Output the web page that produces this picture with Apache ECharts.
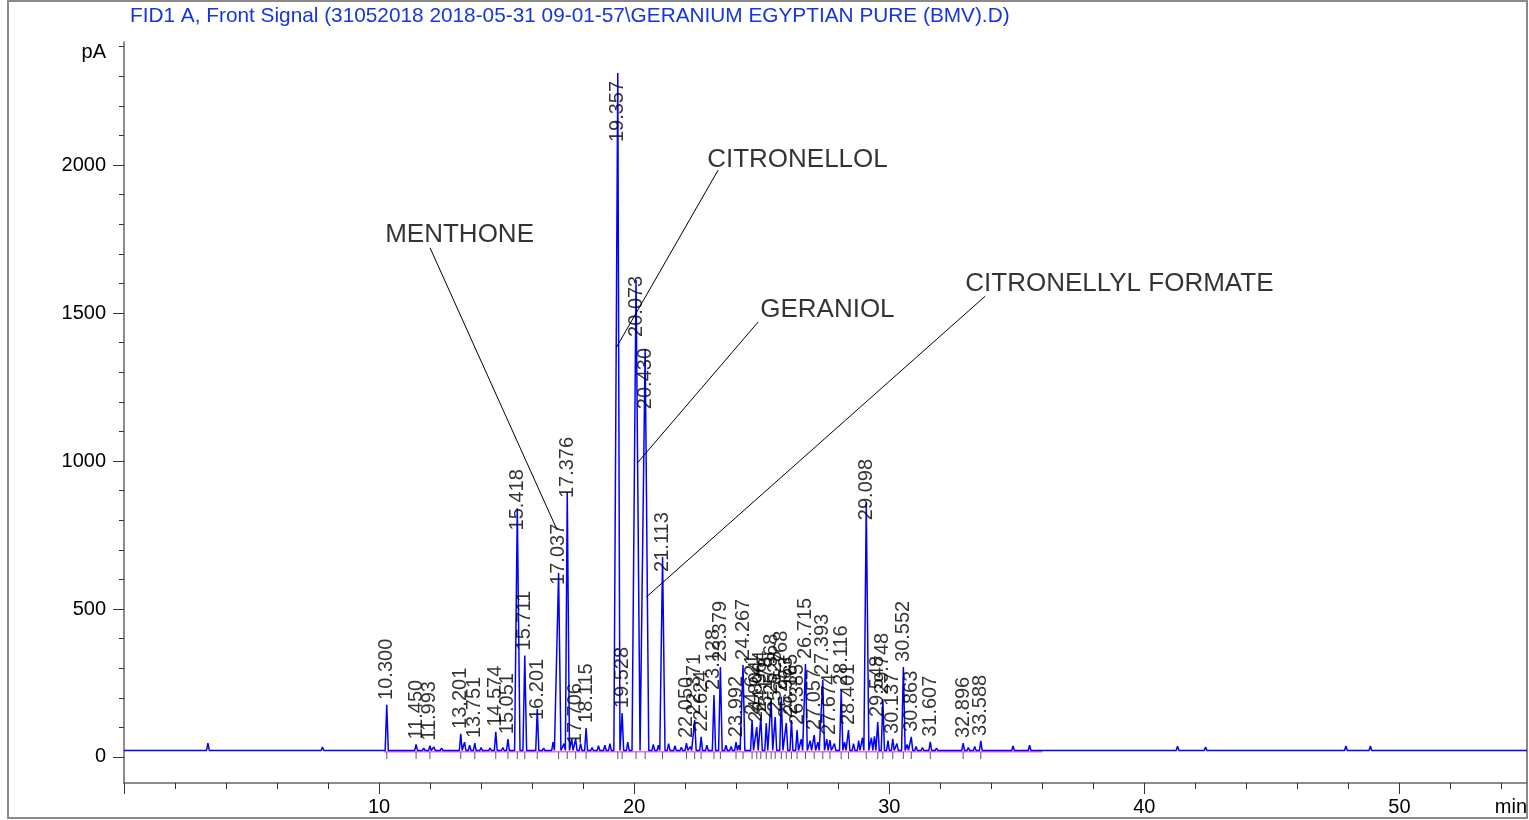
<!DOCTYPE html>
<html>
<head>
<meta charset="utf-8">
<script src="https://cdn.jsdelivr.net/npm/echarts@6/dist/echarts.min.js"></script>
<style>
html, body { margin: 0; padding: 0; background: #fff; }
#chart { width: 1529px; height: 820px; }
</style>
</head>
<body>
<div id="chart"></div>
<script>
// labelled peaks: retention time (min) and apex height (pA)
const peakTimes = [10.300, 11.450, 11.993, 13.201, 13.751, 14.574, 15.051, 15.418, 15.711, 16.201,
  17.037, 17.376, 17.706, 18.115, 19.357, 19.528, 20.073, 20.430, 21.113, 22.050,
  22.371, 22.624, 23.128, 23.379, 23.992, 24.267, 24.621, 24.804, 24.964, 25.178,
  25.368, 25.528, 25.768, 25.963, 26.165, 26.385, 26.715, 27.057, 27.393, 27.674,
  28.116, 28.401, 29.098, 29.548, 29.748, 30.137, 30.552, 30.863, 31.607, 32.896, 33.588];
const peakHeights = [176, 42, 38, 78, 47, 85, 60, 840, 343, 162,
  622, 895, 60, 98, 2311, 148, 1612, 1378, 676, 47,
  125, 68, 209, 304, 50, 311, 125, 101, 135, 115,
  193, 135, 203, 115, 125, 91, 314, 74, 260, 57,
  226, 91, 861, 118, 196, 61, 304, 68, 51, 47, 54];

// small unlabelled bumps of the trace
const minorTimes = [3.29, 3.6, 4.4, 5.33, 6.38, 7.29, 7.78, 8.3, 8.8, 9.6,
  11.75, 12.15, 12.45, 12.95, 13.35, 13.55, 14.0, 14.35, 14.85, 16.45,
  16.82, 17.25, 17.55, 17.9, 18.35, 18.6, 18.85, 19.05, 19.75, 20.75,
  20.95, 21.35, 21.6, 21.85, 22.2, 22.85, 23.6, 23.8, 24.1, 26.55,
  26.9, 27.2, 27.55, 27.85, 28.25, 28.6, 28.8, 28.95, 29.3, 29.42,
  29.95, 30.3, 30.7, 31.05, 31.3, 31.85, 32.3, 32.6, 33.1, 33.35,
  34.3, 34.85, 35.5, 36.4, 37.3, 38.9, 40.2, 41.3, 42.4, 43.5,
  44.8, 46.2, 47.9, 48.86, 49.9, 52.1, 53.8, 54.5];
const minorHeights = [47, 25, 25, 27, 26, 27, 34, 25, 26, 25,
  30, 34, 30, 28, 50, 40, 32, 30, 32, 30,
  50, 45, 60, 45, 32, 38, 40, 45, 50, 42,
  40, 45, 38, 33, 35, 40, 40, 35, 40, 60,
  55, 50, 60, 45, 50, 45, 55, 65, 65, 70,
  55, 45, 42, 35, 32, 30, 28, 27, 32, 35,
  28, 37, 40, 26, 28, 27, 26, 36, 34, 26,
  26, 25, 37, 37, 26, 25, 26, 27];

const baseline = 22;
const xTickLabels = [10, 20, 30, 40, 50];
const yTickLabels = [0, 500, 1000, 1500, 2000];

// named compounds: text anchor, leader line start and end (min, pA)
const annoNames = ['MENTHONE', 'CITRONELLOL', 'GERANIOL', 'CITRONELLYL FORMATE'];
const annoTextTime = [10.24, 22.86, 24.94, 32.98];
const annoTextValue = [1764, 2017, 1510, 1598];
const annoFromTime = [12.0, 23.29, 24.86, 33.76];
const annoFromValue = [1720, 1983, 1470, 1557];
const annoToTime = [16.98, 19.29, 20.12, 20.47];
const annoToValue = [767, 1382, 993, 540];

const FONT = '"Liberation Sans", Arial, sans-serif';

// label start offsets for the tall peaks (px above apex)
const labelDistance = {
  '19.357': -69, '20.073': -57, '20.430': -60, '29.098': -18, '15.418': -22,
  '17.376': -6, '17.037': -12, '21.113': -15, '16.201': -11, '17.706': -5
};

// trace: every peak drawn as a narrow spike on the baseline
let peaks = [];
peakTimes.forEach((t, i) => peaks.push([t, peakHeights[i]]));
minorTimes.forEach((t, i) => peaks.push([t, minorHeights[i]]));
peaks.sort((a, b) => a[0] - b[0]);

let trace = [[0, baseline]];
peaks.forEach((p, i) => {
  let w = 0.05 + p[1] / 15000;
  let wl = w, wr = w;
  if (i > 0) wl = Math.min(w, (p[0] - peaks[i - 1][0]) / 2);
  if (i < peaks.length - 1) wr = Math.min(w, (peaks[i + 1][0] - p[0]) / 2);
  trace.push([p[0] - wl, baseline]);
  trace.push([p[0], p[1]]);
  trace.push([p[0] + wr, baseline]);
});
trace.push([55, baseline]);

let labelData = peakTimes.map((t, i) => {
  let key = t.toFixed(3);
  let d = labelDistance[key] !== undefined ? labelDistance[key] : 5;
  return { value: [t, peakHeights[i]], label: { distance: d } };
});

let minorY = [];
for (let v = 100; v <= 2400; v += 100) if (v % 500 !== 0) minorY.push(v);
let minorX = [];
for (let v = 2; v <= 54; v += 2) if (v % 10 !== 0) minorX.push(v);

let annoSeries = annoNames.map((n, i) => ({
  type: 'line',
  data: [[annoFromTime[i], annoFromValue[i]], [annoToTime[i], annoToValue[i]]],
  symbol: 'none',
  silent: true,
  lineStyle: { color: '#000', width: 1 },
  z: 4
}));

let myChart = echarts.init(document.getElementById('chart'));
myChart.setOption({
  animation: false,
  backgroundColor: '#fff',
  title: {
    text: 'FID1 A, Front Signal (31052018 2018-05-31 09-01-57\\GERANIUM EGYPTIAN PURE (BMV).D)',
    left: 130,
    top: 6,
    padding: 0,
    textStyle: { color: '#1435e0', fontSize: 20.8, fontWeight: 'normal', fontFamily: FONT }
  },
  graphic: [{
    type: 'rect',
    shape: { x: 8, y: 1, width: 1519, height: 817 },
    style: { fill: 'none', stroke: '#8a8a8a', lineWidth: 2 },
    silent: true
  }],
  grid: { left: 124, right: 2, top: 42, bottom: 37, containLabel: false, outerBoundsMode: 'none' },
  xAxis: [{
    type: 'value',
    min: 0,
    max: 55,
    name: 'min',
    nameLocation: 'end',
    nameGap: 0,
    nameTextStyle: { color: '#000', fontSize: 20, fontFamily: FONT, align: 'right', verticalAlign: 'top', padding: [14, 0, 0, 0] },
    axisLine: { onZero: false, lineStyle: { color: '#666', width: 1.5 } },
    axisTick: { customValues: [0, 10, 20, 30, 40, 50], length: 11, lineStyle: { color: '#333' } },
    axisLabel: { customValues: xTickLabels, margin: 14, color: '#000', fontSize: 20, fontFamily: FONT },
    splitLine: { show: false }
  }, {
    type: 'value',
    min: 0,
    max: 55,
    position: 'bottom',
    axisLine: { show: false, onZero: false },
    axisTick: { customValues: minorX, length: 6, lineStyle: { color: '#333' } },
    axisLabel: { show: false },
    splitLine: { show: false }
  }],
  yAxis: [{
    type: 'value',
    min: -88,
    max: 2416,
    name: 'pA',
    nameLocation: 'end',
    nameGap: -10,
    nameTextStyle: { color: '#000', fontSize: 20, fontFamily: FONT, align: 'right', verticalAlign: 'middle', padding: [0, 18, 0, 0] },
    axisLine: { show: true, onZero: false, lineStyle: { color: '#666', width: 1.5 } },
    axisTick: { show: true, customValues: yTickLabels, length: 11, lineStyle: { color: '#333' } },
    axisLabel: { customValues: yTickLabels, margin: 18, color: '#000', fontSize: 20, fontFamily: FONT, formatter: v => String(v) },
    splitLine: { show: false }
  }, {
    type: 'value',
    min: -88,
    max: 2416,
    position: 'left',
    axisLine: { show: false, onZero: false },
    axisTick: { show: true, customValues: minorY, length: 5, lineStyle: { color: '#333' } },
    axisLabel: { show: false },
    splitLine: { show: false }
  }],
  series: [
    {
      // integration baseline
      type: 'line',
      data: [[10.2, baseline - 4.5], [36, baseline - 4.5]],
      symbol: 'none',
      silent: true,
      lineStyle: { color: '#ff5cff', width: 1.5 },
      z: 1
    },
    {
      type: 'line',
      data: trace,
      symbol: 'none',
      silent: true,
      lineStyle: { color: '#0000ff', width: 1.5 },
      z: 2
    },
    {
      // integration marks under the baseline
      type: 'scatter',
      data: peakTimes.map(t => [t, baseline]),
      symbol: 'rect',
      symbolSize: [1, 7],
      symbolOffset: [0, 5],
      itemStyle: { color: '#333' },
      silent: true,
      z: 3
    },
    {
      type: 'scatter',
      data: labelData,
      symbolSize: 0,
      silent: true,
      label: {
        show: true,
        position: 'top',
        rotate: 90,
        align: 'left',
        verticalAlign: 'middle',
        color: '#000',
        fontSize: 20,
        fontFamily: FONT,
        formatter: p => p.value[0].toFixed(3)
      },
      z: 5
    },
    {
      type: 'scatter',
      data: annoNames.map((n, i) => ({ value: [annoTextTime[i], annoTextValue[i]], name: n })),
      symbolSize: 0,
      silent: true,
      label: {
        show: true,
        position: 'right',
        distance: 0,
        color: '#000',
        fontSize: 26,
        fontFamily: FONT,
        formatter: p => p.name
      },
      z: 5
    }
  ].concat(annoSeries)
});
</script>
</body>
</html>
